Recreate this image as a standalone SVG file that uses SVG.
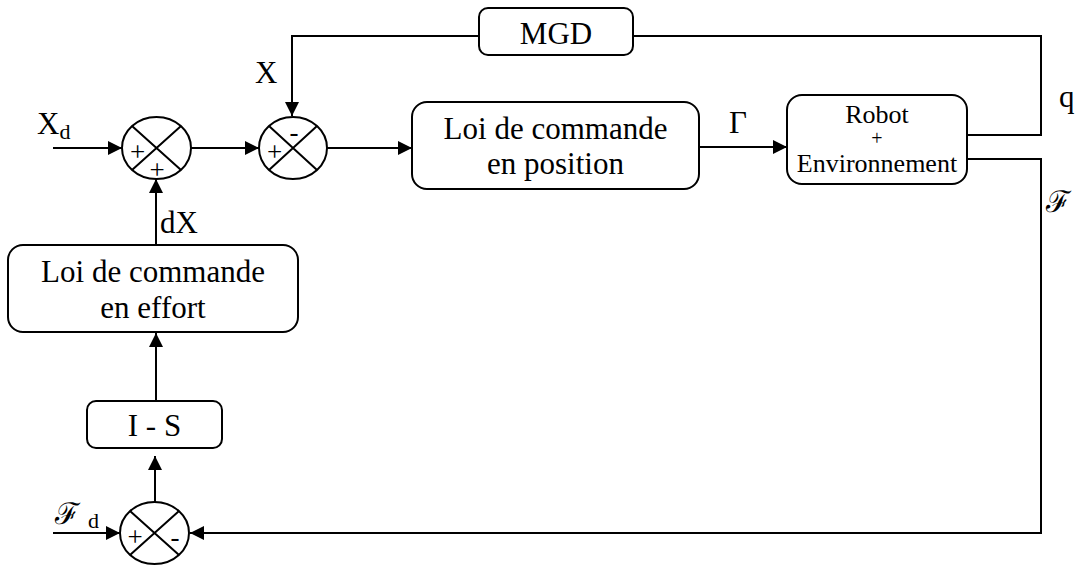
<svg xmlns="http://www.w3.org/2000/svg" width="1082" height="566" viewBox="0 0 1082 566">
  <defs>
    <marker id="arr" viewBox="0 0 14 14" refX="14" refY="7" markerWidth="14" markerHeight="14" markerUnits="userSpaceOnUse" orient="auto">
      <path d="M0,0 L14,7 L0,14 Z" fill="#000"/>
    </marker>
    <style>
      .box { fill: #fff; stroke: #000; stroke-width: 2; }
      .sum { fill: #fff; stroke: #000; stroke-width: 2; }
      .x { stroke: #000; stroke-width: 2; fill: none; }
      .wire { stroke: #000; stroke-width: 2; fill: none; }
      .arrow { marker-end: url(#arr); }
    </style>
  </defs>

  <!-- connectors -->
  <g id="connectors">
    <path class="wire arrow" d="M53,148 H122"/>
    <path class="wire arrow" d="M191,148 H259"/>
    <path class="wire arrow" d="M327,148 H412"/>
    <path class="wire arrow" d="M699,147 H787"/>
    <path class="wire arrow" d="M633,36 H292 V116"/>
    <path class="wire" d="M967,135 H1041 V36 H633"/>
    <path class="wire arrow" d="M967,159 H1041 V533 H190"/>
    <path class="wire arrow" d="M156,245 V179"/>
    <path class="wire arrow" d="M156,401 V333"/>
    <path class="wire arrow" d="M155,502 V456"/>
    <path class="wire arrow" d="M53,533 H120"/>
  </g>

  <!-- summing junction 1 -->
  <g id="sum1">
    <ellipse class="sum" cx="156.5" cy="148" rx="34.5" ry="31"/>
    <path class="x" d="M132,126 L181,170 M181,126 L132,170"/>
    <text x="137.5" y="161" font-family="Liberation Serif" font-size="27" text-anchor="middle">+</text>
    <text x="157" y="179" font-family="Liberation Serif" font-size="27" text-anchor="middle">+</text>
  </g>

  <!-- summing junction 2 -->
  <g id="sum2">
    <ellipse class="sum" cx="293" cy="148" rx="34" ry="31"/>
    <path class="x" d="M269,126 L317,170 M317,126 L269,170"/>
    <text x="274.5" y="161" font-family="Liberation Serif" font-size="27" text-anchor="middle">+</text>
    <text x="294" y="141" font-family="Liberation Serif" font-size="27" text-anchor="middle">-</text>
  </g>

  <!-- summing junction 3 -->
  <g id="sum3">
    <ellipse class="sum" cx="154.5" cy="533" rx="34.5" ry="31"/>
    <path class="x" d="M130,511 L179,555 M179,511 L130,555"/>
    <text x="135" y="546" font-family="Liberation Serif" font-size="27" text-anchor="middle">+</text>
    <text x="175" y="546" font-family="Liberation Serif" font-size="27" text-anchor="middle">-</text>
  </g>

  <!-- MGD block -->
  <g id="mgd">
    <rect class="box" x="479" y="8" width="154" height="47" rx="9"/>
    <text x="556" y="44" font-family="Liberation Serif" font-size="31" text-anchor="middle">MGD</text>
  </g>

  <!-- position control law -->
  <g id="loi-position">
    <rect class="box" x="412" y="102" width="287" height="87" rx="15"/>
    <text x="555.5" y="139" font-family="Liberation Serif" font-size="31" text-anchor="middle">Loi de commande</text>
    <text x="555.5" y="174" font-family="Liberation Serif" font-size="31" text-anchor="middle">en position</text>
  </g>

  <!-- robot + environment -->
  <g id="robot">
    <rect class="box" x="787" y="95" width="180" height="89" rx="15"/>
    <text x="877" y="123" font-family="Liberation Serif" font-size="26" text-anchor="middle">Robot</text>
    <text x="877" y="145" font-family="Liberation Serif" font-size="20" text-anchor="middle">+</text>
    <text x="877" y="172" font-family="Liberation Serif" font-size="26" text-anchor="middle">Environnement</text>
  </g>

  <!-- force control law -->
  <g id="loi-effort">
    <rect class="box" x="8" y="245" width="290" height="87" rx="15"/>
    <text x="153" y="282" font-family="Liberation Serif" font-size="31" text-anchor="middle">Loi de commande</text>
    <text x="153" y="318" font-family="Liberation Serif" font-size="31" text-anchor="middle">en effort</text>
  </g>

  <!-- selection matrix -->
  <g id="i-s">
    <rect class="box" x="87" y="401" width="135" height="47" rx="9"/>
    <text x="154.5" y="436" font-family="Liberation Serif" font-size="31" text-anchor="middle">I - S</text>
  </g>

  <!-- signal labels -->
  <g id="labels">
    <text x="37" y="134" font-family="Liberation Serif" font-size="31">X<tspan font-size="22" dy="5">d</tspan></text>
    <text x="255" y="83" font-family="Liberation Serif" font-size="31">X</text>
    <text x="160" y="233" font-family="Liberation Serif" font-size="31">dX</text>
    <text x="729" y="133" font-family="Liberation Serif" font-size="31">Γ</text>
    <text x="1059" y="107" font-family="Liberation Serif" font-size="31">q</text>
    <text x="1046" y="212" font-family="Liberation Serif" font-size="30">ℱ</text>
    <text x="55" y="524" font-family="Liberation Serif" font-size="30">ℱ</text>
    <text x="88" y="528" font-family="Liberation Serif" font-size="22">d</text>
  </g>
</svg>
